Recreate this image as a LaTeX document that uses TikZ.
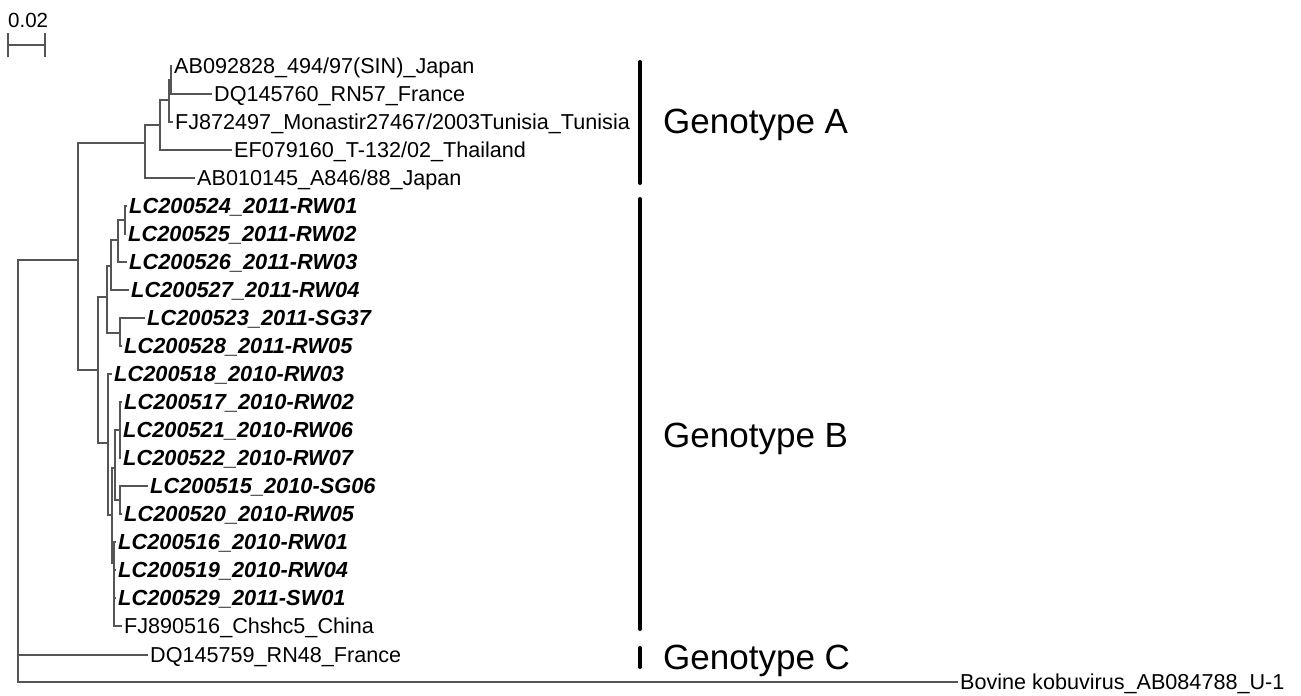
\documentclass[tikz,border=0pt]{standalone}
\usepackage{fontspec}
\setmainfont{Liberation Sans}
\definecolor{treegray}{RGB}{85,85,85}
\begin{document}
\begin{tikzpicture}[x=1pt,y=-1pt,
  br/.style={draw=treegray, line width=1.3pt},
  leaf/.style={anchor=west, inner xsep=2pt, inner ysep=0pt, font=\fontsize{21.6}{24}\selectfont, text height=15.4pt, text depth=0pt},
  bleaf/.style={leaf, font=\fontsize{21.8}{24}\selectfont\bfseries\itshape},
  geno/.style={anchor=west, inner sep=0pt, font=\fontsize{35}{40}\selectfont, text height=25pt, text depth=0pt},
  genobar/.style={line width=4pt, line cap=round}]
\useasboundingbox (0,0) rectangle (1301,696);

% scale bar
\coordinate (sbl) at (8,45);
\coordinate (sbr) at (45,45);
\node[anchor=south west, inner sep=0pt, font=\fontsize{20.5}{24}\selectfont] (sblabel) at (8,28) {0.02};
\draw[br] (sbl) -- (sbr);
\draw[br] ([yshift=-12pt]sbl) -- ([yshift=12pt]sbl);
\draw[br] ([yshift=-12pt]sbr) -- ([yshift=12pt]sbr);

% internal nodes
\coordinate (root) at (18,471);
\coordinate (ab) at (78,260);
\coordinate (gA) at (145,143);
\coordinate (a1) at (160,125);
\coordinate (a2) at (169,100);
\coordinate (a3) at (171,80);
\coordinate (gB) at (98,370);
\coordinate (b1) at (107,297);
\coordinate (b1a) at (111,266);
\coordinate (b1b) at (118,240);
\coordinate (b1c) at (125,220);
\coordinate (b1d) at (120,333);
\coordinate (b2) at (108,443);
\coordinate (b2a) at (112,515);
\coordinate (b2b) at (115,468);
\coordinate (b2c) at (120,430);
\coordinate (b2d) at (120,500);
\coordinate (b2e) at (114,563);

% leaves
\node[leaf] (t1) at (172,66) {AB092828\_494/97(SIN)\_Japan};
\node[leaf] (t2) at (212,94) {DQ145760\_RN57\_France};
\node[leaf] (t3) at (173,122) {FJ872497\_Monastir27467/2003Tunisia\_Tunisia};
\node[leaf] (t4) at (232,150) {EF079160\_T-132/02\_Thailand};
\node[leaf] (t5) at (195,178) {AB010145\_A846/88\_Japan};
\node[bleaf] (t6) at (127,206) {LC200524\_2011-RW01};
\node[bleaf] (t7) at (126,234) {LC200525\_2011-RW02};
\node[bleaf] (t8) at (127,262) {LC200526\_2011-RW03};
\node[bleaf] (t9) at (129,290) {LC200527\_2011-RW04};
\node[bleaf] (t10) at (145,318) {LC200523\_2011-SG37};
\node[bleaf] (t11) at (122,346) {LC200528\_2011-RW05};
\node[bleaf] (t12) at (112,374) {LC200518\_2010-RW03};
\node[bleaf] (t13) at (122,402) {LC200517\_2010-RW02};
\node[bleaf] (t14) at (121,430) {LC200521\_2010-RW06};
\node[bleaf] (t15) at (121,458) {LC200522\_2010-RW07};
\node[bleaf] (t16) at (148,486) {LC200515\_2010-SG06};
\node[bleaf] (t17) at (122,514) {LC200520\_2010-RW05};
\node[bleaf] (t18) at (116,542) {LC200516\_2010-RW01};
\node[bleaf] (t19) at (116,570) {LC200519\_2010-RW04};
\node[bleaf] (t20) at (116,598) {LC200529\_2011-SW01};
\node[leaf] (t21) at (122,626) {FJ890516\_Chshc5\_China};
\node[leaf] (t22) at (148,655) {DQ145759\_RN48\_France};
\node[leaf] (t23) at (958,682) {Bovine kobuvirus\_AB084788\_U-1};

% branches
\draw[br] (root) |- (ab);
\draw[br] (root) |- (t22.west);
\draw[br] (root) |- (t23.west);
\draw[br] (ab) |- (gA);
\draw[br] (ab) |- (gB);
\draw[br] (gA) |- (a1);
\draw[br] (gA) |- (t5.west);
\draw[br] (a1) |- (a2);
\draw[br] (a1) |- (t4.west);
\draw[br] (a2) |- (a3);
\draw[br] (a2) |- (t3.west);
\draw[br] (a3) |- (t1.west);
\draw[br] (a3) |- (t2.west);
\draw[br] (gB) |- (b1);
\draw[br] (gB) |- (b2);
\draw[br] (b1) |- (b1a);
\draw[br] (b1) |- (b1d);
\draw[br] (b1a) |- (b1b);
\draw[br] (b1a) |- (t9.west);
\draw[br] (b1b) |- (b1c);
\draw[br] (b1b) |- (t8.west);
\draw[br] (b1c) |- (t6.west);
\draw[br] (b1c) |- (t7.west);
\draw[br] (b1d) |- (t10.west);
\draw[br] (b1d) |- (t11.west);
\draw[br] (b2) |- (t12.west);
\draw[br] (b2) |- (b2a);
\draw[br] (b2a) |- (b2b);
\draw[br] (b2a) |- (b2e);
\draw[br] (b2b) |- (b2c);
\draw[br] (b2b) |- (b2d);
\draw[br] (b2c) |- (t13.west);
\draw[br] (b2c) |- (t14.west);
\draw[br] (b2c) |- (t15.west);
\draw[br] (b2d) |- (t16.west);
\draw[br] (b2d) |- (t17.west);
\draw[br] (b2e) |- (t18.west);
\draw[br] (b2e) |- (t19.west);
\draw[br] (b2e) |- (t20.west);
\draw[br] (b2e) |- (t21.west);

% genotype bars and labels
\coordinate (gAt) at (640,62);  \coordinate (gAb) at (640,183);
\coordinate (gBt) at (640,199); \coordinate (gBb) at (640,629);
\coordinate (gCt) at (640,648); \coordinate (gCb) at (640,667);
\draw[genobar] (gAt) -- (gAb);
\draw[genobar] (gBt) -- (gBb);
\draw[genobar] (gCt) -- (gCb);
\node[geno] (labA) at (663,121) {Genotype A};
\node[geno] (labB) at (663,435) {Genotype B};
\node[geno] (labC) at (663,657) {Genotype C};
\end{tikzpicture}
\end{document}
